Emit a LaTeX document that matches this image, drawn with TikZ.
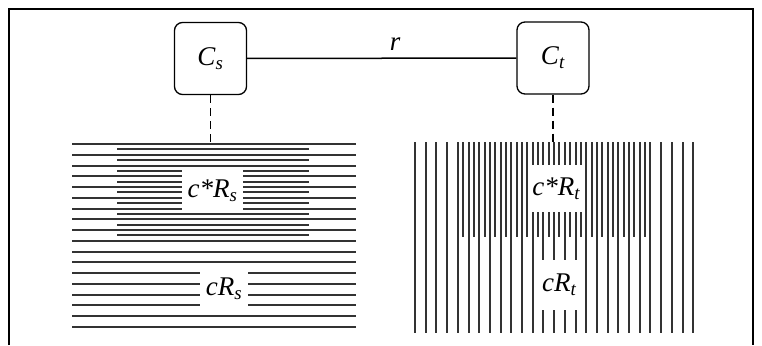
\documentclass[tikz,border=0pt]{standalone}
\usepackage{fontspec}
\setmainfont{Liberation Serif}
\usetikzlibrary{positioning}

% italic letter with italic subscript
\newcommand{\idx}[2]{\textit{#1}\textsubscript{\textit{#2}}}

\tikzset{
  cbox/.style={draw, rounded corners=8pt, line width=1.3pt, minimum width=72pt, minimum height=72pt, inner sep=0pt},
  hatch/.style={line width=2pt, black!80},
  gaplabel/.style={fill=white, inner sep=0pt},
  link/.style={line width=1.6pt, dash pattern=on 8pt off 5pt}
}

\begin{document}
\begin{tikzpicture}[x=1pt, y=-1pt, font=\fontsize{27}{31}\selectfont]
    \useasboundingbox (0,0) rectangle (762,345);
    % open frame
    \draw[line width=2.2pt] (9,345) -- (9,9) -- (753,9) -- (753,345);

    % the two classes and their relation
    \node[cbox] (Cs) at (210.5,58.5) {\idx{C}{s}};
    \node[cbox] (Ct) at (553,58) {\idx{C}{t}};
    \draw[line width=1.5pt] (Cs) -- node[pos=0.55, above=4pt] (r) {\textit{r}} (Ct);

    % source: horizontal lines
    \foreach \i in {0,...,17}
        \draw[hatch] (72,144+10.75*\i) -- (356,144+10.75*\i);
    \foreach \j in {0,...,8}
        \draw[hatch] (117,149.4+10.75*\j) -- (309,149.4+10.75*\j);

    % target: vertical lines
    \foreach \k in {0,...,26}
        \draw[hatch] (415+10.7*\k,142) -- (415+10.7*\k,333);
    \foreach \k in {4,...,21}
        \draw[hatch] (420.35+10.7*\k,142) -- (420.35+10.7*\k,237);

    % labels cut into the lines
    \node[gaplabel, minimum width=61pt, minimum height=45pt] (cRsStar) at (212.5,190.5) {\idx{c*R}{s}};
    \node[gaplabel, minimum width=48pt, minimum height=42pt] (cRs) at (224,289) {\idx{cR}{s}};
    \node[gaplabel, minimum width=57pt, minimum height=47pt] (cRtStar) at (556.5,188.5) {\idx{c*R}{t}};
    \node[gaplabel, minimum width=43pt, minimum height=50pt] (cRt) at (559.5,285) {\idx{cR}{t}};

    % dashed links down to the line blocks
    \coordinate (srctop) at (212,144);
    \coordinate (tgttop) at (555,142);
    \draw[link] (Cs.south) -- (Cs.south |- srctop);
    \draw[link] (Ct.south) -- (Ct.south |- tgttop);
\end{tikzpicture}
\end{document}
